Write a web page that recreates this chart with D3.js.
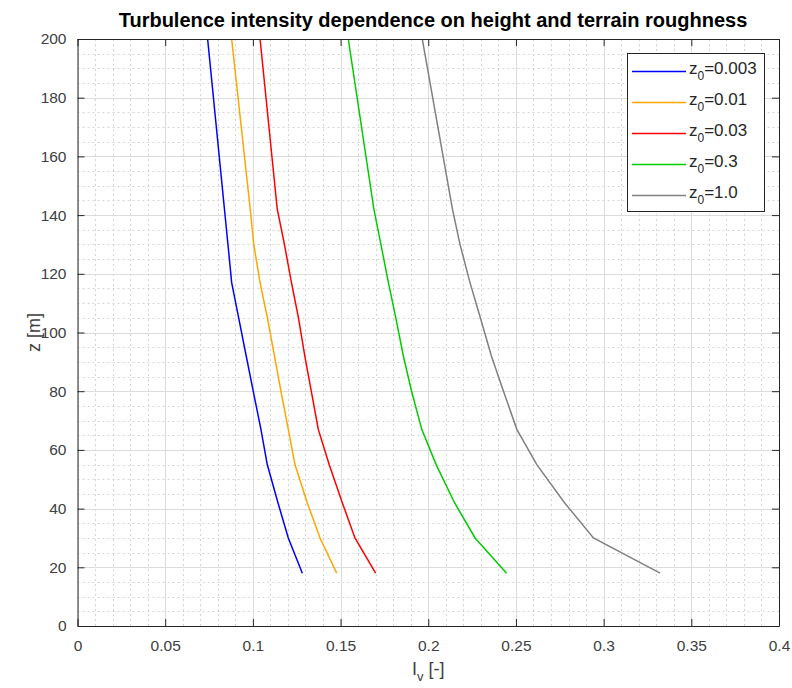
<!DOCTYPE html>
<html><head><meta charset="utf-8">
<script src="https://d3js.org/d3.v7.min.js"></script>
<style>body{margin:0;background:#fff;} svg{display:block;}</style>
</head><body><svg id="c" width="792" height="688"></svg>
<script>
// ---- data ----
const heights = [18, 30, 42, 55, 67, 80, 92, 105, 117, 130, 142, 200];
const iv_z0_0003 = [0.1282, 0.1202, 0.1143, 0.1082, 0.1046, 0.1002, 0.0962, 0.0919, 0.0879, 0.0858, 0.0838, 0.0742];
const iv_z0_001  = [0.1478, 0.1383, 0.1310, 0.1240, 0.1202, 0.1160, 0.1123, 0.1083, 0.1041, 0.1005, 0.0985, 0.0879];
const iv_z0_003  = [0.1700, 0.1582, 0.1510, 0.1435, 0.1373, 0.1333, 0.1296, 0.1260, 0.1220, 0.1180, 0.1139, 0.1041];
const iv_z0_03   = [0.2447, 0.2267, 0.2150, 0.2045, 0.1963, 0.1905, 0.1858, 0.1815, 0.1773, 0.1730, 0.1690, 0.1544];
const iv_z0_10   = [0.3322, 0.2942, 0.2777, 0.2619, 0.2505, 0.2429, 0.2360, 0.2297, 0.2238, 0.2181, 0.2138, 0.1966];
const seriesNames = ["0.003", "0.01", "0.03", "0.3", "1.0"];
const seriesColors = ["#0000ff", "#ffa500", "#ff0000", "#00cc00", "#808080"];
const xTicks = [0, 0.05, 0.1, 0.15, 0.2, 0.25, 0.3, 0.35, 0.4];
const yTicks = [0, 20, 40, 60, 80, 100, 120, 140, 160, 180, 200];
const titleText = "Turbulence intensity dependence on height and terrain roughness";

const seriesValues = [iv_z0_0003, iv_z0_001, iv_z0_003, iv_z0_03, iv_z0_10];

// ---- layout ----
const L = 77.5, R = 779, T = 39, B = 626;
const svg = d3.select("#c");
const x = d3.scaleLinear().domain([0, 0.4]).range([L, R]);
const y = d3.scaleLinear().domain([0, 200]).range([B, T]);
const axisCol = "#262626", font = "Liberation Sans, Arial, Helvetica, sans-serif";

// minor grid
const xMinor = d3.range(0, 0.4001, 0.01).filter(v => Math.abs(v / 0.05 - Math.round(v / 0.05)) > 1e-6);
const yMinor = d3.range(0, 200.001, 5).filter(v => v % 20 !== 0);
const g = svg.append("g");
g.selectAll(".xm").data(xMinor).enter().append("line")
  .attr("x1", d => Math.round(x(d)) + 0.5).attr("x2", d => Math.round(x(d)) + 0.5)
  .attr("y1", T).attr("y2", B).attr("stroke", "#d4d4d4").attr("stroke-dasharray", "2,3");
g.selectAll(".ym").data(yMinor).enter().append("line")
  .attr("y1", d => Math.round(y(d)) + 0.5).attr("y2", d => Math.round(y(d)) + 0.5)
  .attr("x1", L).attr("x2", R).attr("stroke", "#d4d4d4").attr("stroke-dasharray", "2,3");
// major grid
g.selectAll(".xg").data(xTicks).enter().append("line")
  .attr("x1", d => Math.round(x(d)) + 0.5).attr("x2", d => Math.round(x(d)) + 0.5)
  .attr("y1", T).attr("y2", B).attr("stroke", "#dcdcdc");
g.selectAll(".yg").data(yTicks).enter().append("line")
  .attr("y1", d => Math.round(y(d)) + 0.5).attr("y2", d => Math.round(y(d)) + 0.5)
  .attr("x1", L).attr("x2", R).attr("stroke", "#dcdcdc");

// lines
svg.append("clipPath").attr("id", "pc").append("rect")
  .attr("x", L).attr("y", T).attr("width", R - L).attr("height", B - T);
const line = d3.line().x(d => x(d[0])).y(d => y(d[1]));
seriesValues.forEach((vals, i) => {
  svg.append("path").attr("clip-path", "url(#pc)")
    .datum(vals.map((v, k) => [v, heights[k]]))
    .attr("d", line).attr("fill", "none")
    .attr("stroke", seriesColors[i]).attr("stroke-width", 1.5);
});

// axes
function styleAxis(sel) {
  sel.selectAll("path").attr("stroke", axisCol);
  sel.selectAll("line").attr("stroke", axisCol);
  sel.selectAll("text").attr("fill", "#404040").style("font-family", font).style("font-size", "15.5px");
}
const fmt = d => d === 0 ? "0" : String(d);
svg.append("g").attr("transform", `translate(0,${B})`)
  .call(d3.axisBottom(x).tickValues(xTicks).tickFormat(fmt).tickSizeInner(-7).tickSizeOuter(0).tickPadding(14))
  .call(styleAxis);
svg.append("g").attr("transform", `translate(0,${T})`)
  .call(d3.axisTop(x).tickValues(xTicks).tickFormat("").tickSizeInner(-7).tickSizeOuter(0))
  .call(styleAxis);
svg.append("g").attr("transform", `translate(${L},0)`)
  .call(d3.axisLeft(y).tickValues(yTicks).tickFormat(fmt).tickSizeInner(-7).tickSizeOuter(0).tickPadding(11))
  .call(styleAxis);
svg.append("g").attr("transform", `translate(${R},0)`)
  .call(d3.axisRight(y).tickValues(yTicks).tickFormat("").tickSizeInner(-7).tickSizeOuter(0))
  .call(styleAxis);

// labels
svg.append("text").attr("x", 433).attr("y", 27).attr("text-anchor", "middle")
  .style("font-family", font).style("font-size", "20px").style("font-weight", "bold").attr("fill", "#000")
  .text(titleText);
const xl = svg.append("text").attr("x", (L + R) / 2).attr("y", 675).attr("text-anchor", "middle")
  .style("font-family", font).style("font-size", "18px").attr("fill", "#404040");
xl.append("tspan").text("I");
xl.append("tspan").attr("dy", 6).style("font-size", "13px").text("v");
xl.append("tspan").attr("dy", -6).text(" [-]");
svg.append("text").attr("transform", `translate(40,${(T + B) / 2}) rotate(-90)`).attr("text-anchor", "middle")
  .style("font-family", font).style("font-size", "18px").attr("fill", "#404040").text("z [m]");

// legend
const lg = svg.append("g");
lg.append("rect").attr("x", 627.5).attr("y", 53.5).attr("width", 137).attr("height", 158)
  .attr("fill", "#fff").attr("stroke", axisCol);
seriesNames.forEach((n, i) => {
  const yy = 71.5 + i * 31;
  lg.append("line").attr("x1", 632).attr("x2", 686).attr("y1", yy).attr("y2", yy)
    .attr("stroke", seriesColors[i]).attr("stroke-width", 1.5);
  const t = lg.append("text").attr("x", 689).attr("y", yy + 2)
    .style("font-family", font).style("font-size", "17px").attr("fill", "#262626");
  t.append("tspan").text("z");
  t.append("tspan").attr("dy", 6).style("font-size", "12px").text("0");
  t.append("tspan").attr("dy", -6).text("=" + n);
});
</script></body></html>
